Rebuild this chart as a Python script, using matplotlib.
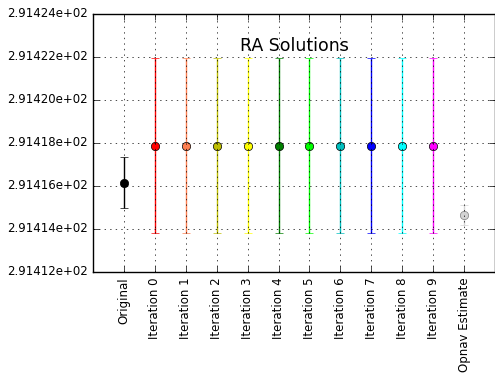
import matplotlib
matplotlib.use('Agg')
import matplotlib.pyplot as plt
from matplotlib.ticker import FormatStrFormatter

plt.style.use('classic')

# Solution labels, values and one-sigma errors
labels = ['Original'] + ['Iteration %d' % i for i in range(10)] + ['Opnav Estimate']
values = [291.41614] + [291.41786] * 10 + [291.41465]
errors = [0.00118] + [0.00407] * 10 + [0.00048]
colors = ['black', 'red', 'coral', 'y', 'yellow', 'g', 'lime', 'c', 'b', 'cyan', 'magenta', 'lightgray']

fig = plt.figure(figsize=(4.95, 3.76), dpi=100)
ax = fig.add_axes([0.188, 0.277, 0.812, 0.686])

for i in range(len(labels)):
    ax.errorbar(i, values[i], yerr=errors[i], fmt='o', color=colors[i],
                ecolor=colors[i], mec='black' if i < 11 else 'gray',
                markersize=6, capsize=3, elinewidth=1)

ax.set_xlim(-1, 12)
ax.set_ylim(291.412, 291.424)
ax.set_yticks([291.412 + 0.002 * k for k in range(7)])
ax.yaxis.set_major_formatter(FormatStrFormatter('%.5e'))
ax.set_xticks(range(len(labels)))
ax.set_xticklabels(labels, rotation=90)
ax.tick_params(labelsize=8.5)
ax.grid(True)
ax.set_title('RA Solutions', y=0.83, fontsize=12.5)

fig.savefig('out.png', dpi=100)
